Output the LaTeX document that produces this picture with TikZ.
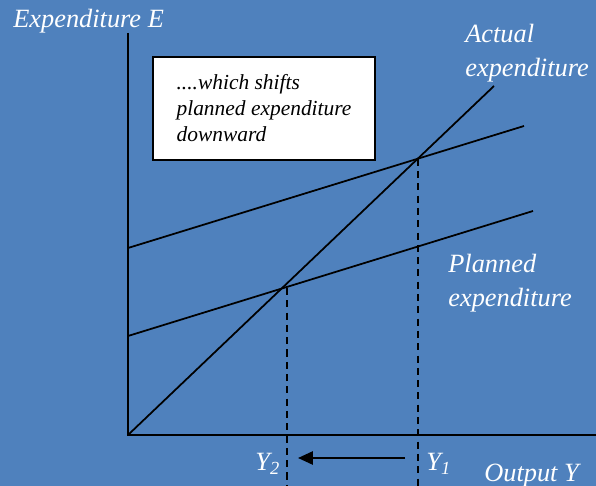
\documentclass[tikz,border=0pt]{standalone}
\usepackage{fontspec}
\setmainfont{Liberation Serif}
\usepackage{xcolor}
\usetikzlibrary{arrows.meta,positioning,calc}

\definecolor{slideblue}{HTML}{4F81BD}

\begin{document}
\begin{tikzpicture}[
  x=0.02cm, y=-0.02cm,
  axis/.style={line width=1.1pt, color=black},
  curve/.style={line width=1pt, color=black},
  guide/.style={line width=1pt, color=black, dash pattern=on 4pt off 3pt},
  lbl/.style={inner sep=0pt, text=white, font=\fontsize{15}{19.9}\selectfont\itshape, align=left},
  note/.style={rectangle, draw=black, line width=1pt, fill=white, minimum width=4.44cm, minimum height=2.06cm, align=left, font=\fontsize{12.2}{14.8}\selectfont\itshape},
  arrow/.style={-{Triangle[length=8.5pt, width=7.5pt]}, line width=1.2pt, color=black}
]

% Background
\fill[slideblue] (0,0) rectangle (596,486);
\useasboundingbox (0,0) rectangle (596,486);

% Axes
\coordinate (orig) at (128,435);
\coordinate (ytop) at (128,33);
\coordinate (xend) at (596,435);
\draw[axis] (ytop) -- (orig) -- (xend);

\node[lbl, anchor=base west] (ylabel) at (13,28) {Expenditure E};
\node[lbl, anchor=base west] (xlabel) at (484,482) {Output Y};

% Actual expenditure (45 degree line)
\coordinate (actend) at (494,86);
\draw[curve] (orig) -- (actend);
\node[lbl, anchor=base west] (actlbl) at (465,77) {Actual\\expenditure};

% Planned expenditure, before and after the shift
\coordinate (pa1) at (128,248);
\coordinate (pa2) at (524,126);
\coordinate (pb1) at (128,336);
\coordinate (pb2) at (533,211);
\draw[curve] (pa1) -- (pa2);
\draw[curve] (pb1) -- (pb2);
\node[lbl, anchor=base west] (planlbl) at (448,307) {Planned\\expenditure};

% Equilibria
\coordinate (eq1) at (intersection of orig--actend and pa1--pa2);
\coordinate (eq2) at (intersection of orig--actend and pb1--pb2);
\coordinate (top2) at (287,288);
\coordinate (foot1) at (eq1 |- 0,486);
\coordinate (foot2) at (287,486);
\draw[guide] (eq1) -- (foot1);
\draw[guide] (top2) -- (foot2);

\node[lbl, anchor=base west] (y1) at (426,471) {Y\textsubscript{1}};
\node[lbl, anchor=base west] (y2) at (255,471) {Y\textsubscript{2}};

% Shift arrow
\coordinate (arrstart) at (405,458);
\coordinate (arrend) at (298,458);
\draw[arrow] (arrstart) -- (arrend);

% Note box
\node[note] (shiftnote) at (264,108.5) {....which shifts\\planned expenditure\\downward};

\end{tikzpicture}
\end{document}
